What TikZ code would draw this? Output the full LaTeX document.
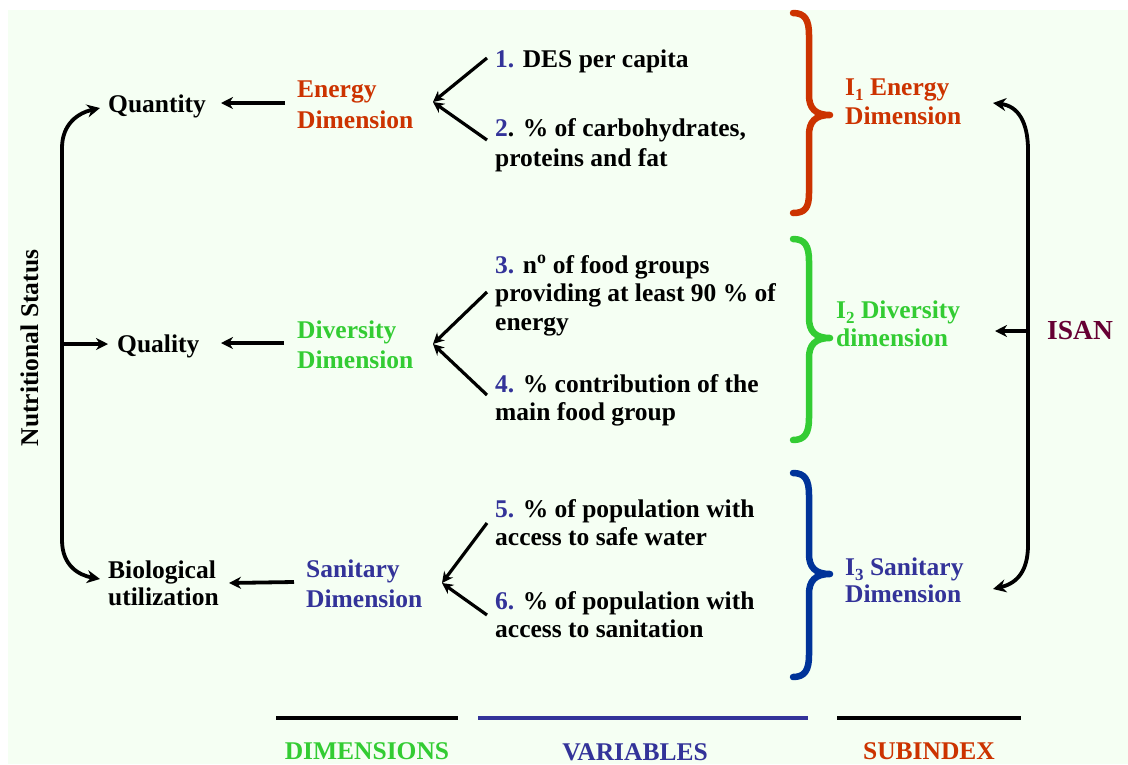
\documentclass[tikz,border=0pt]{standalone}
\usepackage{fontspec}
\setmainfont{Liberation Serif}
\usetikzlibrary{arrows.meta}
\definecolor{bg}{RGB}{245,255,243}
\definecolor{cred}{RGB}{204,51,0}
\definecolor{cgreen}{RGB}{51,204,51}
\definecolor{cblue}{RGB}{51,51,153}
\definecolor{bblue}{RGB}{0,51,153}
\definecolor{cmaroon}{RGB}{102,0,51}
\newcommand{\mysub}[1]{\raisebox{-5pt}{\fontsize{17}{17}\selectfont #1}}
\begin{document}
\begin{tikzpicture}[x=1pt,y=-1pt,
  txt/.style={font=\fontsize{25.5}{#1}\selectfont\bfseries, inner sep=0pt, align=left, anchor=base west},
  txt/.default=29,
  lbl/.style={font=\fontsize{25.5}{29}\selectfont\bfseries, inner sep=0pt, anchor=base},
  arr/.style={line width=3.8pt, -{Stealth[length=12pt,width=12pt]}},
  varr/.style={line width=3.2pt, -{Stealth[length=11pt,width=11pt]}},
  dblarr/.style={line width=3.8pt, {Stealth[length=13pt,width=13pt]}-{Stealth[length=13pt,width=13pt]}},
  bracepath/.style={line width=6.5pt, line cap=round, line join=round},
  rule/.style={line width=4pt}
]
\useasboundingbox (0,0) rectangle (1128,764);
\fill[bg] (8,10) rectangle (1128,764);

% left column (base anchor = baseline of the last line)
\node[txt] (quantity) at (108,112) {Quantity};
\node[txt] (quality) at (117,352) {Quality};
\node[txt=27] (bio) at (108,605) {Biological\\utilization};
\node[lbl, rotate=90] (nutr) at (38,348) {Nutritional Status};

% dimensions
\node[txt=31, text=cred] (energy) at (297,128) {Energy\\Dimension};
\node[txt=30, text=cgreen] (diversity) at (297,368) {Diversity\\Dimension};
\node[txt=30, text=cblue] (sanitary) at (306,607) {Sanitary\\Dimension};

% variables
\node[txt] (v1) at (495,67) {\textcolor{cblue}{1.} DES per capita};
\node[txt=30] (v2) at (495,166) {\textcolor{cblue}{2}. \% of carbohydrates,\\proteins and fat};
\node[txt=28.5] (v3) at (495,330) {\textcolor{cblue}{3.} n\textsuperscript{o} of food groups\\providing at least 90 \% of\\energy};
\node[txt=28] (v4) at (495,420) {\textcolor{cblue}{4.} \% contribution of the\\main food group};
\node[txt=27.5] (v5) at (495,545) {\textcolor{cblue}{5.} \% of population with\\access to safe water};
\node[txt=27.5] (v6) at (495,637) {\textcolor{cblue}{6.} \% of population with\\access to sanitation};

% subindexes
\node[txt=29, text=cred] (s1) at (845,124) {I\mysub{1} Energy\\Dimension};
\node[txt=28, text=cgreen] (s2) at (836,346) {I\mysub{2} Diversity\\dimension};
\node[txt=27, text=cblue] (s3) at (845,602) {I\mysub{3} Sanitary\\Dimension};
\node[txt, font=\fontsize{27.5}{30}\selectfont\bfseries, text=cmaroon] (isan) at (1047,339) {ISAN};

% bottom legend
\node[lbl, text=cgreen] (ldim) at (367,759) {DIMENSIONS};
\node[lbl, text=cblue] (lvar) at (635,760) {VARIABLES};
\node[lbl, text=cred] (lsub) at (929,759) {SUBINDEX};
\draw[rule, black] (276,718) -- (458,718);
\draw[rule, cblue] (478,718) -- (808,718);
\draw[rule, black] (837,718) -- (1021,718);

% coordinates for connector ends
\coordinate (qin) at (221,103);
\coordinate (eout) at (285,103);
\coordinate (qlin) at (221,343);
\coordinate (dout) at (284,343);
\coordinate (bin) at (229,583);
\coordinate (sout) at (294,582);
\coordinate (etip) at (433,102);
\coordinate (dtip) at (433,344);
\coordinate (stip) at (442,583);
\coordinate (v1o) at (487,58);
\coordinate (v2o) at (487,140);
\coordinate (v3o) at (487,292);
\coordinate (v4o) at (487,395);
\coordinate (v5o) at (487,523);
\coordinate (v6o) at (487,615);
\coordinate (ltop) at (100,108);
\coordinate (lbot) at (100,579);
\coordinate (lmid) at (62,344);
\coordinate (qlt) at (108,344);
\coordinate (rtop) at (993,103);
\coordinate (rbot) at (993,589);
\coordinate (rmid) at (1028,331);
\coordinate (itip) at (995,331);

% dimension -> left column
\draw[arr] (eout) -- (qin);
\draw[arr] (dout) -- (qlin);
\draw[arr] (sout) -- (bin);

% variables -> dimensions
\draw[varr] (v1o) -- (etip);
\draw[varr] (v2o) -- (etip);
\draw[varr] (v3o) -- (dtip);
\draw[varr] (v4o) -- (dtip);
\draw[varr] (v5o) -- (stip);
\draw[varr] (v6o) -- (stip);

% left bracket arrows
\draw[dblarr] (ltop) .. controls (78,113) and (62,124) .. (62,148) -- (62,540) .. controls (62,565) and (78,575) .. (lbot);
\draw[arr] (lmid) -- (qlt);

% right bracket arrows
\draw[dblarr] (rtop) .. controls (1018,106) and (1028,122) .. (1028,150) -- (1028,545) .. controls (1028,570) and (1018,583) .. (rbot);
\draw[arr] (rmid) -- (itip);

% braces
\draw[bracepath, cred] (793,13) .. controls (805,13) and (809,20) .. (809,35) -- (809,95) .. controls (809,108) and (815,115) .. (830,115) .. controls (815,115) and (809,122) .. (809,135) -- (809,193) .. controls (809,208) and (805,213) .. (793,213);
\draw[bracepath, cgreen] (793,239) .. controls (805,239) and (809,246) .. (809,261) -- (809,318) .. controls (809,331) and (815,338) .. (830,338) .. controls (815,338) and (809,345) .. (809,358) -- (809,418) .. controls (809,433) and (805,440) .. (793,440);
\draw[bracepath, bblue] (793,473) .. controls (805,473) and (809,480) .. (809,495) -- (809,554) .. controls (809,567) and (815,574) .. (830,574) .. controls (815,574) and (809,581) .. (809,594) -- (809,655) .. controls (809,670) and (805,677) .. (793,677);
\end{tikzpicture}
\end{document}
